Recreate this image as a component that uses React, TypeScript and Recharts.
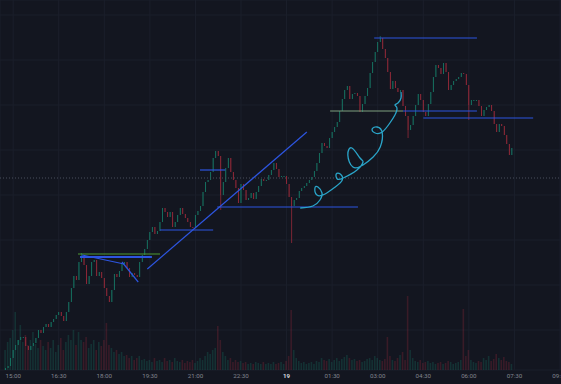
import React from 'react';
import { ComposedChart, Bar, Scatter, XAxis, YAxis, CartesianGrid, ReferenceLine } from 'recharts';

const BG = '#131620';
const UP = '#17806b';
const DOWN = '#a62c3c';
const BLUE = '#2d55e0';

// 5 minute candles, the first one opens at 14:45 (minutes counted from 15:00)
const START_MIN = -15;
const STEP_MIN = 5;

const closes = [
  2, 4, 12, 20, 25, 30, 33, 33, 24, 20,
  24, 27, 32, 40, 37, 43, 46, 43, 48, 51,
  55, 58, 54, 49, 58, 68, 82, 94, 90, 108,
  114, 105, 86, 94, 108, 110, 94, 98, 92, 82,
  74, 68, 80, 96, 93, 99, 106, 108, 102, 93,
  97, 95, 93, 108, 115, 121, 130, 138, 143, 136,
  139, 148, 162, 158, 153, 158, 143, 148, 155, 162,
  156, 152, 148, 143, 142, 155, 159, 164, 178, 188,
  190, 198, 212, 219, 214, 175, 188, 202, 212, 198,
  190, 182, 167, 186, 180, 170, 172, 177, 171, 178,
  184, 191, 189, 190, 195, 200, 207, 201, 193, 194,
  194, 186, 173, 164, 170, 172, 179, 182, 184, 187,
  190, 193, 199, 207, 217, 227, 224, 222, 232, 238,
  243, 248, 259, 271, 280, 284, 271, 276, 277, 274,
  258, 266, 274, 282, 297, 308, 318, 328, 332, 321,
  312, 298, 281, 289, 282, 278, 280, 264, 254, 240,
  245, 254, 265, 276, 270, 258, 254, 266, 278, 293,
  305, 302, 296, 307, 298, 280, 285, 289, 291, 293,
  297, 296, 285, 265, 270, 270, 270, 264, 254, 260,
  263, 265, 259, 246, 238, 246, 244, 235, 226, 215,
  222,
];

const volumes = [
  20, 28, 32, 40, 58, 30, 45, 28, 35, 25,
  30, 38, 26, 22, 30, 24, 20, 28, 22, 30,
  18, 25, 32, 20, 28, 35, 30, 40, 25, 38,
  30, 28, 33, 22, 26, 30, 20, 28, 24, 30,
  47, 25, 22, 18, 20, 16, 18, 14, 15, 12,
  14, 10, 12, 14, 10, 11, 9, 10, 8, 12,
  9, 10, 8, 12, 9, 10, 8, 12, 9, 8,
  10, 7, 9, 8, 10, 7, 9, 12, 10, 14,
  18, 16, 20, 22, 44, 30, 18, 14, 10, 12,
  8, 10, 8, 9, 7, 8, 6, 7, 6, 8,
  7, 6, 8, 6, 7, 6, 8, 6, 7, 8,
  6, 9, 14, 60, 20, 12, 9, 7, 8, 6,
  7, 8, 6, 9, 8, 12, 10, 9, 11, 8,
  10, 12, 9, 11, 13, 15, 12, 10, 11, 9,
  10, 8, 9, 11, 12, 10, 14, 12, 10, 9,
  11, 33, 14, 10, 9, 12, 15, 18, 10, 74,
  20, 12, 9, 8, 10, 7, 8, 9, 7, 8,
  6, 7, 8, 6, 7, 9, 8, 6, 7, 8,
  10, 61, 14, 20, 10, 8, 7, 9, 8, 12,
  10, 14, 9, 11, 16, 12, 10, 13, 9, 8,
  6,
];

// long wicks: [candle index, price]
const wickHighs = [[30, 117], [148, 334]];
const wickLows = [[85, 160], [113, 127], [159, 232], [183, 250]];

const timeTicks = [0, 90, 180, 270, 360, 450, 540, 630, 720, 810, 900, 990, 1080];
const timeLabels = ['15:00', '16:30', '18:00', '19:30', '21:00', '22:30', '19', '01:30', '03:00', '04:30', '06:00', '07:30', '09:00'];
const gridPrices = [17.5, 40, 62.5, 85, 107.5, 130, 152.5, 175, 197.5, 220, 242.5, 265, 287.5, 310, 332.5, 355];

// drawings, [t1, p1, t2, p2]
const blueLines = [
  [132, 113, 274, 113],
  [136, 115, 219, 106],
  [215, 108, 247, 88],
  [265, 101, 580, 238],
  [290, 140, 395, 140],
  [369, 200, 419, 200],
  [403, 163, 681, 163],
  [770, 259, 916, 259],
  [810, 252, 1027, 252],
  [713, 332, 916, 332],
];
const greenLine = [128, 116, 290, 116];
const paleLine = [626, 259, 770, 259];
const lastPrice = 192;

const spiral = [
  { t: 567, p: 162 }, { t: 592, p: 164 }, { t: 606, p: 170 }, { t: 610, p: 177 },
  { t: 602, p: 183 }, { t: 596, p: 182 }, { t: 600, p: 175 }, { t: 616, p: 176 },
  { t: 636, p: 183 }, { t: 650, p: 190 }, { t: 646, p: 196 }, { t: 638, p: 196 },
  { t: 640, p: 191 }, { t: 652, p: 192 }, { t: 679, p: 200 }, { t: 691, p: 208 },
  { t: 685, p: 212 }, { t: 669, p: 222 }, { t: 661, p: 215 }, { t: 671, p: 203 },
  { t: 691, p: 205 }, { t: 711, p: 213 }, { t: 725, p: 223 }, { t: 729, p: 237 },
  { t: 719, p: 243 }, { t: 709, p: 241 }, { t: 715, p: 237 }, { t: 729, p: 238 },
  { t: 744, p: 247 }, { t: 754, p: 255 }, { t: 758, p: 262 }, { t: 754, p: 265 },
  { t: 760, p: 267 }, { t: 766, p: 272 }, { t: 766, p: 278 },
];

const highMap = new Map(wickHighs.map(([i, v]) => [i, v]));
const lowMap = new Map(wickLows.map(([i, v]) => [i, v]));

const candles = closes.map((c, i) => {
  const o = i === 0 ? c - 2 : closes[i - 1];
  const h = highMap.has(i) ? highMap.get(i)! : Math.max(o, c);
  const l = lowMap.has(i) ? lowMap.get(i)! : Math.min(o, c);
  return { t: START_MIN + i * STEP_MIN, o, c, h, l, v: volumes[i] };
});

function Candle(props: any) {
  const { x, y, width, height, payload } = props;
  const { o, c, h, l } = payload;
  const k = h - l > 0 ? height / (h - l) : 0;
  const top = y + (h - Math.max(o, c)) * k;
  const bodyH = Math.max(1, Math.abs(o - c) * k);
  const color = c >= o ? UP : DOWN;
  const cx = x + width / 2;
  return (
    <g>
      <line x1={cx} x2={cx} y1={y} y2={y + Math.max(height, 1)} stroke={color} strokeWidth={0.7} />
      <rect x={x} y={top} width={width} height={bodyH} fill={color} />
    </g>
  );
}

function VolumeBar(props: any) {
  const { x, y, width, height, payload } = props;
  return (
    <rect x={x} y={y} width={width} height={height}
      fill={payload.c >= payload.o ? UP : DOWN} fillOpacity={0.26} />
  );
}

function TimeTick(props: any) {
  const { x, y, payload } = props;
  const label = timeLabels[timeTicks.indexOf(payload.value)];
  const day = label === '19';
  return (
    <text x={x} y={y} dy={8} textAnchor="middle" fontSize={6.2}
      fill={day ? '#d1d4dc' : '#82858f'} fontWeight={day ? 700 : 400}>
      {label}
    </text>
  );
}

const NoDot = () => <g />;

export default function App() {
  return (
    <div style={{ position: 'fixed', left: 0, top: 0, width: 561, height: 384, background: BG }}>
      <ComposedChart width={561} height={384} data={candles}
        margin={{ top: 0, right: 0, bottom: 0, left: 0 }}
        style={{ fontFamily: 'Roboto, sans-serif' }}>
        <CartesianGrid stroke="#1b1f2b" strokeWidth={1} yAxisId="price" />
        <XAxis dataKey="t" type="number" domain={[-26, 1082]} allowDataOverflow
          ticks={timeTicks} interval={0} height={14} tickSize={0} tickMargin={0}
          axisLine={false} tickLine={false} tick={<TimeTick />} />
        <XAxis xAxisId="vol" dataKey="t" type="number" domain={[-26, 1082]} hide />
        <YAxis yAxisId="price" domain={[0, 370]} ticks={gridPrices} hide allowDataOverflow />
        <YAxis yAxisId="vol" domain={[0, 370]} hide />

        <Bar xAxisId="vol" yAxisId="vol" dataKey="v" barSize={1.6}
          shape={<VolumeBar />} isAnimationActive={false} />

        <ReferenceLine yAxisId="price" y={lastPrice} stroke="#4a4e5c"
          strokeDasharray="1 2" strokeWidth={1} />

        <Bar yAxisId="price" dataKey={(d: any) => [d.l, d.h]} barSize={1.6}
          shape={<Candle />} isAnimationActive={false} />

        <ReferenceLine yAxisId="price" ifOverflow="visible"
          segment={[{ x: greenLine[0], y: greenLine[1] }, { x: greenLine[2], y: greenLine[3] }]}
          stroke="#4f9a33" strokeWidth={1.2} />
        <ReferenceLine yAxisId="price" ifOverflow="visible"
          segment={[{ x: paleLine[0], y: paleLine[1] }, { x: paleLine[2], y: paleLine[3] }]}
          stroke="#7f9f7e" strokeWidth={1} />
        {blueLines.map((s, i) => (
          <ReferenceLine key={i} yAxisId="price" ifOverflow="visible"
            segment={[{ x: s[0], y: s[1] }, { x: s[2], y: s[3] }]}
            stroke={BLUE} strokeWidth={i === 0 ? 2 : 1.2} />
        ))}

        <Scatter yAxisId="price" data={spiral} dataKey="p" shape={<NoDot />}
          line={{ stroke: '#2aa4c8', strokeWidth: 1.3 }} lineJointType="natural"
          isAnimationActive={false} />
      </ComposedChart>
    </div>
  );
}
